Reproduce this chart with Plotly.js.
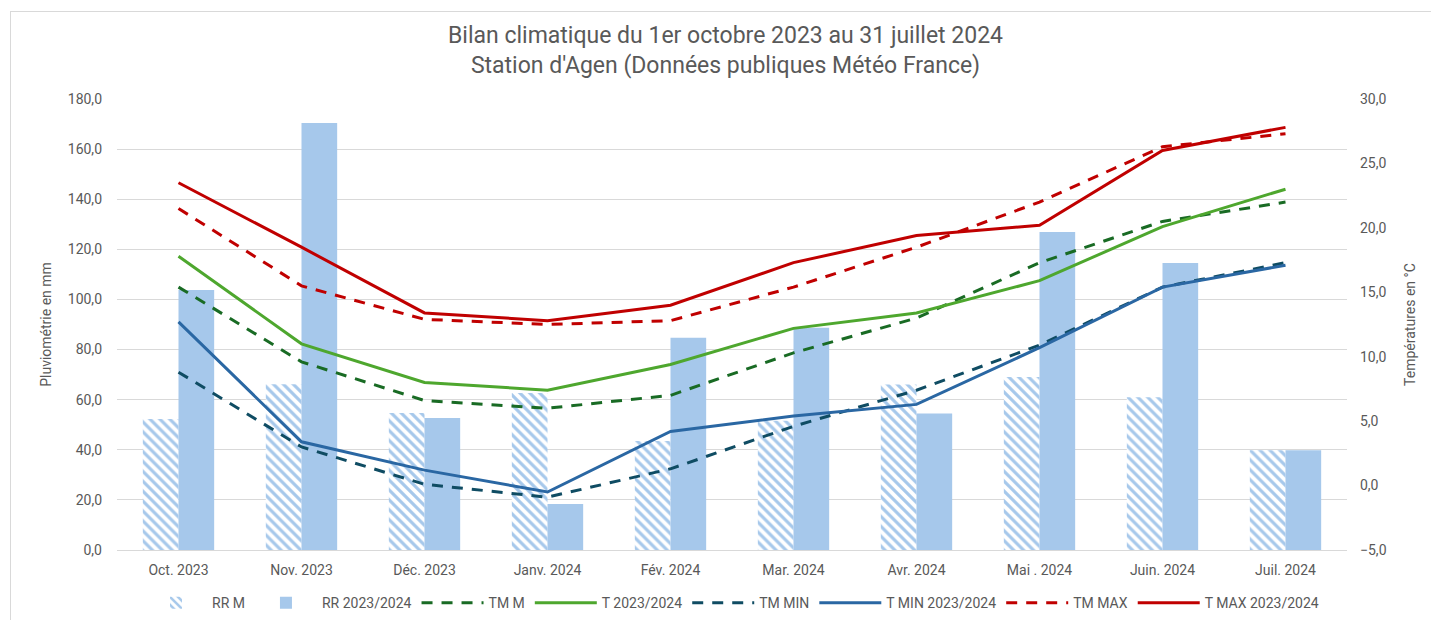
<!DOCTYPE html>
<html>
<head>
<meta charset="utf-8">
<script src="https://cdn.plot.ly/plotly-3.0.1.min.js"></script>
<style>
  body { margin: 0; background: #fff; }
  #frame { position: absolute; left: 10px; top: 11px; width: 1440px; height: 640px;
           border: 1px solid #d9d9d9; pointer-events: none; }
  #chart { position: absolute; left: 0; top: 0; width: 1431px; height: 620px; }
</style>
</head>
<body>
<div id="chart"></div>
<div id="frame"></div>
<script>
// months
var mois = ['Oct. 2023', 'Nov. 2023', 'Déc. 2023', 'Janv. 2024', 'Fév. 2024',
            'Mar. 2024', 'Avr. 2024', 'Mai . 2024', 'Juin. 2024', 'Juil. 2024'];

// rainfall (mm)
var rrNormale = [52.3, 66.2, 54.7, 62.7, 43.5, 51.6, 66.1, 69.0, 61.0, 39.8];
var rrAnnee   = [103.8, 170.4, 52.7, 18.4, 84.7, 88.7, 54.5, 126.9, 114.5, 39.8];

// temperatures (°C)
var tmMoy    = [15.4, 9.6, 6.6, 6.0, 7.0, 10.3, 13.0, 17.3, 20.5, 22.0];
var tMoy     = [17.8, 11.0, 8.0, 7.4, 9.4, 12.2, 13.4, 15.9, 20.1, 23.0];
var tmMin    = [8.8, 3.0, 0.1, -0.9, 1.3, 4.6, 7.4, 10.9, 15.4, 17.3];
var tMin     = [12.7, 3.4, 1.2, -0.5, 4.2, 5.4, 6.3, 10.7, 15.4, 17.1];
var tmMax    = [21.5, 15.5, 12.9, 12.5, 12.8, 15.4, 18.5, 22.0, 26.3, 27.3];
var tMax     = [23.5, 18.5, 13.4, 12.8, 14.0, 17.3, 19.4, 20.2, 26.0, 27.8];

var bleuPluie = '#a6c8eb';
var dashStyle = '11px,9px';

function lineTrace(name, y, color, dashed){
    return {
        type: 'scatter',
        mode: 'lines',
        name: name,
        x: mois,
        y: y,
        yaxis: 'y2',
        line: {color: color, width: 3, dash: dashed ? dashStyle : 'solid'},
        hoverinfo: 'skip'
    };
}

var data = [
    {
        type: 'bar', name: 'RR M', x: mois, y: rrNormale,
        marker: {color: 'white', line: {width: 0},
                 pattern: {shape: '\\', fgcolor: bleuPluie, bgcolor: 'white', size: 7, solidity: 0.45}}
    },
    {
        type: 'bar', name: 'RR 2023/2024', x: mois, y: rrAnnee,
        marker: {color: bleuPluie, line: {width: 0}}
    },
    lineTrace('TM M', tmMoy, '#196b24', true),
    lineTrace('T 2023/2024', tMoy, '#4ea72e', false),
    lineTrace('TM MIN', tmMin, '#0f4c63', true),
    lineTrace('T MIN 2023/2024', tMin, '#2a67a3', false),
    lineTrace('TM MAX', tmMax, '#c00000', true),
    lineTrace('T MAX 2023/2024', tMax, '#c00000', false)
];

var police = 'Roboto, sans-serif';
var gris = '#595959';

var layout = {
    width: 1431,
    height: 620,
    margin: {l: 117, r: 84, t: 99, b: 70, autoexpand: false},
    paper_bgcolor: 'white',
    plot_bgcolor: 'white',
    separators: ', ',
    font: {family: police, color: gris, size: 14},
    title: {
        text: 'Bilan climatique du 1er octobre 2023 au 31 juillet 2024<br>Station d\'Agen (Données publiques Météo France)',
        font: {family: police, size: 23, color: gris},
        x: 0.507, xanchor: 'center',
        yref: 'container', y: 0.93, yanchor: 'middle'
    },
    barmode: 'group',
    bargap: 0.42,
    bargroupgap: 0,
    showlegend: true,
    legend: {
        orientation: 'h',
        x: 0.5, xanchor: 'center',
        yref: 'container',
        y: 0.027, yanchor: 'middle',
        font: {family: police, size: 14, color: gris},
        itemwidth: 62,
        traceorder: 'normal'
    },
    xaxis: {
        type: 'category',
        showgrid: false,
        showline: true,
        linecolor: '#d9d9d9',
        linewidth: 1,
        ticks: '',
        ticklabelstandoff: 7,
        tickfont: {size: 14, color: gris}
    },
    yaxis: {
        range: [0, 180],
        dtick: 20,
        tickformat: '.1f',
        gridcolor: '#d9d9d9',
        gridwidth: 1,
        zeroline: false,
        ticks: '',
        ticklabelstandoff: 14,
        tickfont: {size: 14, color: gris},
        title: {text: 'Pluviométrie en mm', font: {size: 14, color: gris}, standoff: 12}
    },
    yaxis2: {
        overlaying: 'y',
        side: 'right',
        range: [-5, 30],
        dtick: 5,
        tickformat: '.1f',
        showgrid: false,
        zeroline: false,
        ticks: '',
        ticklabelstandoff: 12,
        tickfont: {size: 14, color: gris},
        title: {text: 'Températures en °C', font: {size: 14, color: gris}, standoff: 19}
    }
};

Plotly.newPlot('chart', data, layout, {displayModeBar: false, staticPlot: true});
</script>
</body>
</html>
